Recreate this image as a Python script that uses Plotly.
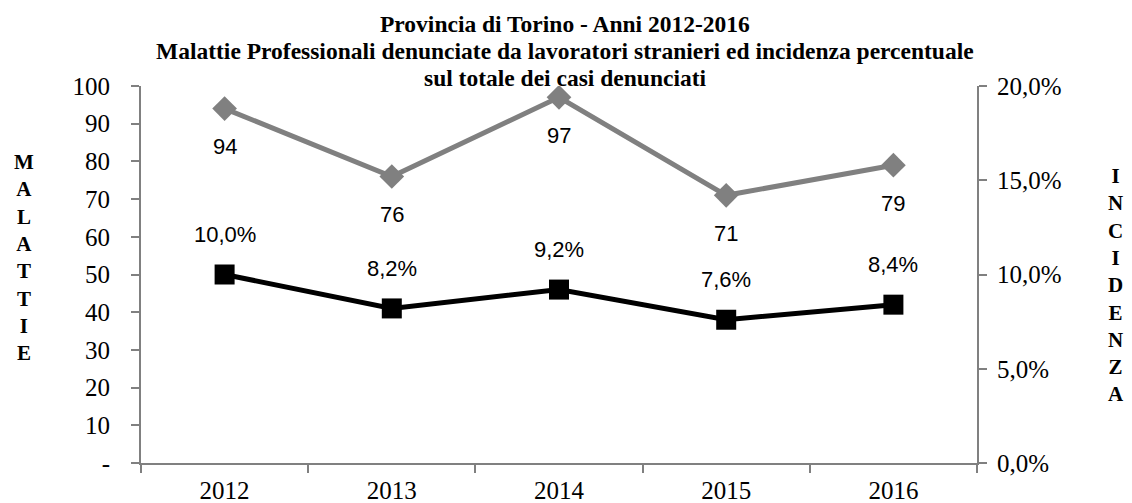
import plotly.graph_objects as go

anni = ["2012", "2013", "2014", "2015", "2016"]
malattie = [94, 76, 97, 71, 79]
incidenza = [0.100, 0.082, 0.092, 0.076, 0.084]
incidenza_txt = ["10,0%", "8,2%", "9,2%", "7,6%", "8,4%"]
left_ticks = [0, 10, 20, 30, 40, 50, 60, 70, 80, 90, 100]
left_labels = ["-", "10", "20", "30", "40", "50", "60", "70", "80", "90", "100"]
right_ticks = [0, 0.05, 0.10, 0.15, 0.20]
titolo = [
    "Provincia di Torino - Anni 2012-2016",
    "Malattie Professionali denunciate da lavoratori stranieri ed incidenza percentuale",
    "sul totale dei casi denunciati",
]

serif = "Liberation Serif, Times New Roman, serif"
sans = "Liberation Sans, Arial, sans-serif"
grey = "#808080"

fig = go.Figure()
fig.add_trace(go.Scatter(
    x=anni, y=malattie, mode="lines+markers",
    line=dict(color=grey, width=5),
    marker=dict(symbol="diamond", size=19, color=grey),
    showlegend=False,
))
fig.add_trace(go.Scatter(
    x=anni, y=incidenza, mode="lines+markers", yaxis="y2",
    line=dict(color="black", width=5),
    marker=dict(symbol="square", size=20, color="black"),
    showlegend=False,
))

# data labels (gray below, black above)
for i, v in enumerate(malattie):
    fig.add_annotation(x=i, y=v, xref="x", yref="y", text=str(v), showarrow=False,
                       yshift=-38, font=dict(family=sans, size=22, color="black"))
for i, (v, t) in enumerate(zip(incidenza, incidenza_txt)):
    fig.add_annotation(x=i, y=v, xref="x", yref="y2", text=t, showarrow=False,
                       yshift=40, font=dict(family=sans, size=22, color="black"))

# title lines, tighter spacing than plotly's title
for ty, line in zip([1.205, 1.133, 1.061], titolo):
    fig.add_annotation(xref="paper", yref="paper", x=0.507, y=ty, text=f"<b>{line}</b>",
                       showarrow=False, font=dict(family=serif, size=23.5, color="black"))

# stacked vertical axis titles
fig.add_annotation(xref="paper", yref="paper", x=-0.154, y=0.546,
                   text="<b>" + "<br>".join("MALATTIE") + "</b>", showarrow=False,
                   font=dict(family=serif, size=21, color="black"), align="center")
fig.add_annotation(xref="paper", yref="paper", x=1.178, y=0.472,
                   text="<b>" + "<br>".join("INCIDENZA") + "</b>", showarrow=False,
                   font=dict(family=serif, size=21, color="black"), align="center")

axis_style = dict(
    showline=True, linecolor=grey, linewidth=2,
    ticks="outside", tickcolor=grey, ticklen=8, tickwidth=2,
    showgrid=False, zeroline=False, automargin=False,
    tickfont=dict(family=serif, size=25, color="black"),
)

fig.update_layout(
    width=1124, height=495,
    plot_bgcolor="white", paper_bgcolor="white",
    margin=dict(l=133, r=155, t=78, b=40),
    separators=",.",
    xaxis=dict(type="category", range=[-0.5, 4.5], tickson="boundaries",
               ticklabelstandoff=4, **axis_style),
    yaxis=dict(range=[0, 100], tickvals=left_ticks, ticktext=left_labels,
               ticklabelstandoff=16, **axis_style),
    yaxis2=dict(range=[0, 0.20], tickvals=right_ticks, tickformat=".1%",
                overlaying="y", side="right", ticklabelstandoff=5, **axis_style),
)

fig.write_html("out.html")
